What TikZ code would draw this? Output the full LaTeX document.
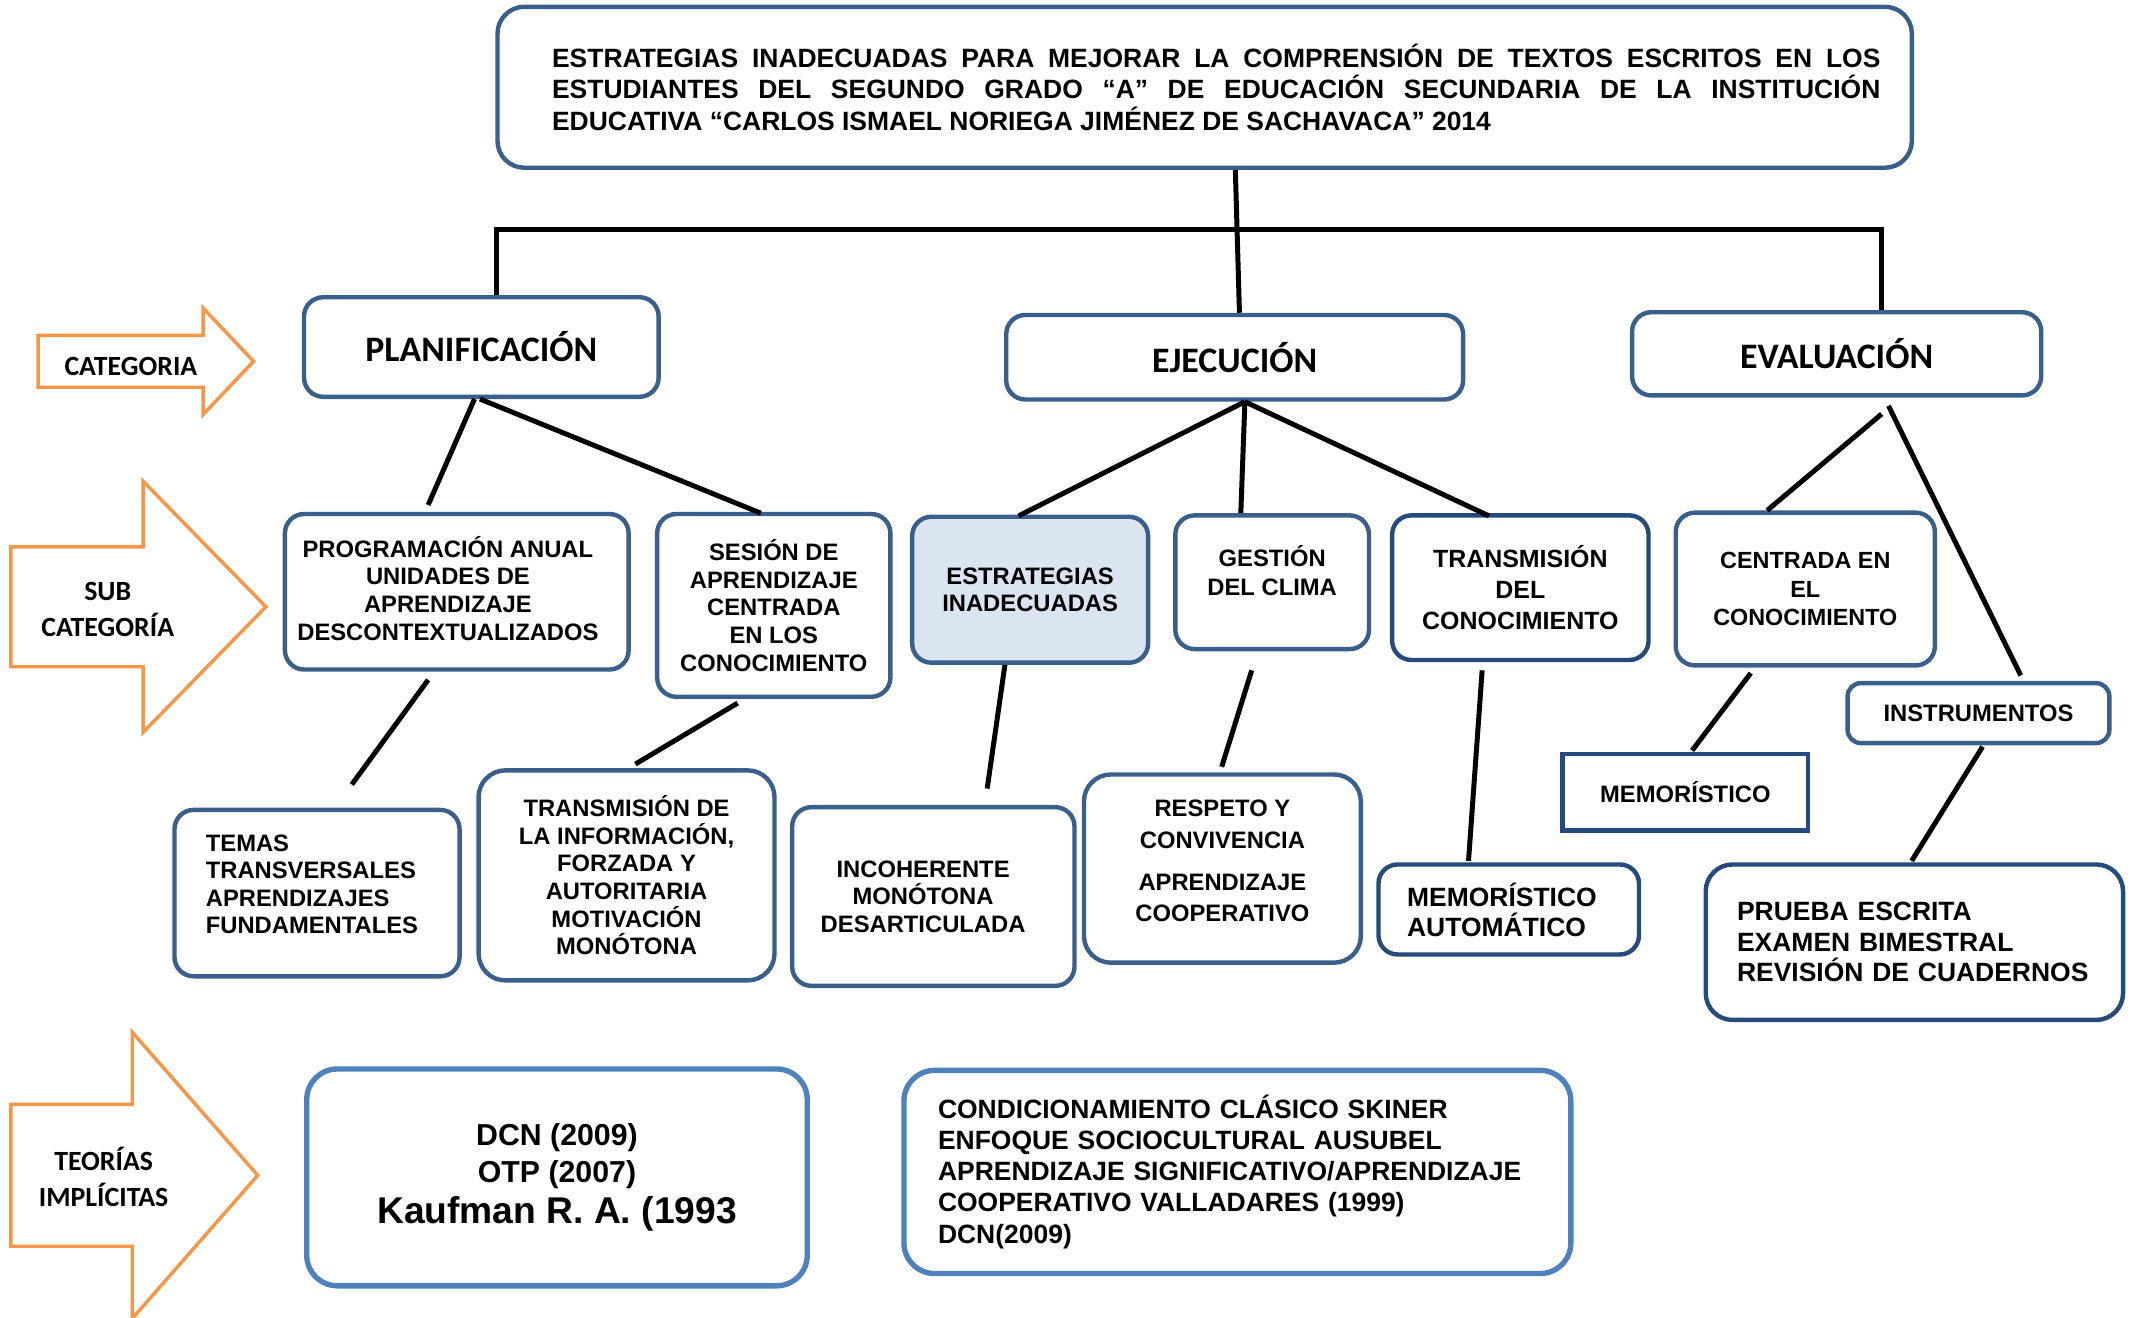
\documentclass[tikz,border=0pt]{standalone}
\usepackage{fontspec}
\setmainfont{Liberation Sans}
\newfontfamily\calibri{Carlito}
\usetikzlibrary{calc}
\definecolor{azul}{HTML}{3A5F8B}
\definecolor{azuloscuro}{HTML}{254A7B}
\definecolor{azulclaro}{HTML}{4F81BD}
\definecolor{celeste}{HTML}{DBE5F1}
\definecolor{naranja}{HTML}{F79646}
\begin{document}
\begin{tikzpicture}[x=0.025cm,y=-0.025cm]
% Estilos
\tikzstyle{caja}=[draw=azul,line width=2.3pt,rounded corners=10pt,fill=white,inner sep=2pt,align=center]
\tikzstyle{cajaosc}=[caja,draw=azuloscuro]
\tikzstyle{cajateo}=[caja,draw=azulclaro,line width=2.8pt,rounded corners=16pt]
\tikzstyle{texto}=[font=\fontsize{12.4}{14.4}\selectfont\bfseries,align=center]
\tikzstyle{textog}=[font=\fontsize{13.8}{16.2}\selectfont\bfseries]
\tikzstyle{categoria}=[font={\calibri\fontsize{18.7}{22}\selectfont\bfseries}]
\tikzstyle{rotulo}=[font={\calibri\fontsize{14.5}{18.5}\selectfont\bfseries},align=center]
\tikzstyle{conector}=[line width=2.6pt,black]
\tikzstyle{flecha}=[draw=naranja,line width=1.8pt,line join=miter,fill=white]
\useasboundingbox (0,0) rectangle (1568,966);
% Flechas de la izquierda
\draw[flecha] (28,246) -- (149,246) -- (149,226) -- (186,265) -- (149,304) -- (149,284) -- (28,284) -- cycle;
\draw[flecha] (8,401) -- (105,401) -- (105,353) -- (195,445) -- (105,537) -- (105,489) -- (8,489) -- cycle;
\draw[flecha] (8,810) -- (97,810) -- (97,757) -- (189,862) -- (97,967) -- (97,914) -- (8,914) -- cycle;
\node[rotulo] (categoria) at (96,269) {CATEGORIA};
\node[rotulo] (subcategoria) at (79,447) {SUB\\CATEGORÍA};
\node[rotulo] (teorias) at (76,863) {TEORÍAS\\IMPLÍCITAS};
% Titulo
\node[caja,rounded corners=14pt,minimum width=25.925cm,minimum height=2.95cm] (titulo) at (883.5,64) {};
\node[textog,font=\fontsize{13.8}{16.4}\selectfont\bfseries,text width=24.35cm,align=justify] (tituloT) at (892,64)
  {ESTRATEGIAS INADECUADAS PARA MEJORAR LA COMPRENSIÓN DE TEXTOS ESCRITOS EN LOS\linebreak
   ESTUDIANTES DEL SEGUNDO GRADO “A” DE EDUCACIÓN SECUNDARIA DE LA INSTITUCIÓN\linebreak
   EDUCATIVA “CARLOS ISMAEL NORIEGA JIMÉNEZ DE SACHAVACA” 2014};
% Categorias
\node[caja,categoria,minimum width=6.5cm,minimum height=1.825cm] (plan) at (353,254.5) {PLANIFICACIÓN};
\node[caja,categoria,minimum width=8.375cm,minimum height=1.55cm] (ejec) at (905.5,262) {EJECUCIÓN};
\node[caja,categoria,minimum width=7.5cm,minimum height=1.525cm] (eval) at (1347,259.5) {EVALUACIÓN};
% Subcategorias
\node[caja,minimum width=6.3cm,minimum height=2.85cm] (prog) at (335,434) {};
\node[texto] (progT) at (328.5,431.5) {PROGRAMACIÓN ANUAL\\UNIDADES DE\\APRENDIZAJE\\DESCONTEXTUALIZADOS};
\node[caja,texto,minimum width=4.275cm,minimum height=3.35cm] (sesion) at (567.5,444) {SESIÓN DE\\APRENDIZAJE\\CENTRADA\\EN LOS\\CONOCIMIENTO};
\node[caja,texto,fill=celeste,minimum width=4.325cm,minimum height=2.675cm] (estrat) at (755.5,432.5) {ESTRATEGIAS\\INADECUADAS};
\node[caja,minimum width=3.55cm,minimum height=2.45cm] (gestion) at (933,427) {};
\node[texto,font=\fontsize{12.4}{15}\selectfont\bfseries] (gestionT) at (933,418.5) {GESTIÓN\\DEL CLIMA};
\node[cajaosc,texto,font=\fontsize{13}{16}\selectfont\bfseries,minimum width=4.7cm,minimum height=2.65cm] (transm) at (1115,431) {TRANSMISIÓN\\DEL\\CONOCIMIENTO};
\node[caja,texto,font=\fontsize{12.2}{15}\selectfont\bfseries,minimum width=4.75cm,minimum height=2.8cm] (centrada) at (1324,432) {CENTRADA EN\\EL\\CONOCIMIENTO};
\node[caja,texto,minimum width=4.8cm,minimum height=1.1cm,rounded corners=7pt] (instr) at (1451,523) {INSTRUMENTOS};
% Tercer nivel
\node[caja,minimum width=5.225cm,minimum height=3.05cm] (temas) at (232.5,655) {};
\node[texto,align=left,text width=4.075cm] (temasT) at (232.5,648.5) {TEMAS\\TRANSVERSALES\\APRENDIZAJES\\FUNDAMENTALES};
\node[caja,texto,minimum width=5.425cm,minimum height=3.85cm,rounded corners=14pt] (transinf) at (459.5,642) {TRANSMISIÓN DE\\LA INFORMACIÓN,\\FORZADA Y\\AUTORITARIA\\MOTIVACIÓN\\MONÓTONA};
\node[caja,minimum width=5.175cm,minimum height=3.275cm] (incoh) at (684.5,657.5) {};
\node[texto] (incohT) at (677,657.5) {INCOHERENTE\\MONÓTONA\\DESARTICULADA};
\node[caja,minimum width=5.075cm,minimum height=3.45cm,rounded corners=14pt] (respeto) at (896.5,637) {};
\node[texto,font=\fontsize{12.4}{16.4}\selectfont\bfseries] (respetoT) at (896.5,631.5) {RESPETO Y\\CONVIVENCIA\\[5.7pt]APRENDIZAJE\\COOPERATIVO};
\node[cajaosc,textog,font=\fontsize{13.8}{15.6}\selectfont\bfseries,align=left,inner xsep=0.525cm,text width=3.725cm,minimum width=4.775cm,minimum height=1.65cm] (memaut) at (1106.5,667) {MEMORÍSTICO\\AUTOMÁTICO};
\node[cajaosc,texto,rounded corners=0pt,minimum width=4.5cm,minimum height=1.4cm] (memor) at (1236,581) {MEMORÍSTICO};
\node[cajaosc,textog,font=\fontsize{13.8}{16}\selectfont\bfseries,align=left,inner xsep=0.575cm,text width=6.5cm,minimum width=7.65cm,minimum height=2.85cm,rounded corners=14pt] (prueba) at (1404,691) {PRUEBA ESCRITA\\EXAMEN BIMESTRAL\\REVISIÓN DE CUADERNOS};
% Teorias implicitas
\node[cajateo,font=\fontsize{15.8}{19.2}\selectfont\bfseries,minimum width=9.175cm,minimum height=3.975cm] (dcn) at (408.5,863.5) {DCN (2009)\\OTP (2007)\\[2pt]{\fontsize{19.4}{21.3}\selectfont Kaufman R. A. (1993}};
\node[cajateo,textog,align=left,inner xsep=0.625cm,text width=10.975cm,minimum width=12.225cm,minimum height=3.725cm] (cond) at (907.5,859.5) {CONDICIONAMIENTO CLÁSICO SKINER\\ENFOQUE SOCIOCULTURAL AUSUBEL\\APRENDIZAJE SIGNIFICATIVO/APRENDIZAJE\\COOPERATIVO VALLADARES (1999)\\DCN(2009)};
% Conectores
\draw[conector] ($(titulo.south)+(22.5,0)$) -- ($(ejec.north)+(3.5,0)$);
\draw[conector] ($(plan.north)+(11,0)$) -- ++(0,-48) -| ($(eval.north)+(33,0)$);
\draw[conector] ($(plan.south)+(-5,0)$) -- ($(prog.north)+(-21,-5)$);
\draw[conector] ($(plan.south)+(-1,0)$) -- ($(sesion.north)+(-9.5,1)$);
\draw[conector] ($(ejec.south)+(7.5,0)$) -- ($(estrat.north)+(-8.5,1)$);
\draw[conector] ($(ejec.south)+(7.5,0)$) -- ($(gestion.north)+(-23,0)$);
\draw[conector] ($(ejec.south)+(7.5,0)$) -- ($(transm.north)+(-23,2)$);
\draw[conector] ($(eval.south)+(33,12)$) -- ($(centrada.north)+(-28,0)$);
\draw[conector] ($(eval.south)+(38,6)$) -- ($(instr.north)+(31,-4)$);
\draw[conector] ($(prog.south)+(-21,6)$) -- ($(temas.north)+(25.5,-17)$);
\draw[conector] ($(sesion.south)+(-26.5,3)$) -- ($(transinf.north)+(6.5,-3)$);
\draw[conector] ($(estrat.south)+(-18.5,0)$) -- ($(incoh.north)+(39.5,-12)$);
\draw[conector] ($(gestion.south)+(-15,14)$) -- ($(respeto.north)+(-0.5,-4)$);
\draw[conector] ($(transm.south)+(-28,6)$) -- ($(memaut.north)+(-29.5,-1)$);
\draw[conector] ($(centrada.south)+(-40,4)$) -- ($(memor.north)+(5,-1)$);
\draw[conector] ($(instr.south)+(3,1)$) -- ($(prueba.north)+(-2,-1)$);
\end{tikzpicture}
\end{document}
